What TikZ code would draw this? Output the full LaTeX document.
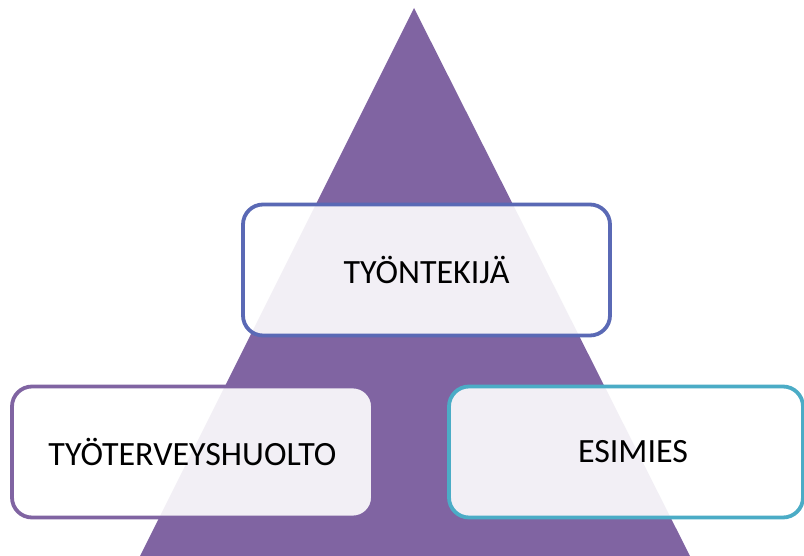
\documentclass[tikz,border=0pt]{standalone}
\usepackage{fontspec}
\setmainfont{Carlito}
\usepackage{tikz}
\usetikzlibrary{positioning}
\definecolor{pyramid}{HTML}{8064A2}
\definecolor{topline}{HTML}{5A69B5}
\definecolor{leftline}{HTML}{8064A2}
\definecolor{rightline}{HTML}{4BACC6}

\begin{document}
\begin{tikzpicture}[x=1pt, y=-1pt,
  box/.style={rectangle, rounded corners=20pt, line width=3.8pt, fill=white, fill opacity=0.9, text opacity=1,
    minimum height=131pt, font=\fontsize{34}{40}\selectfont},
]
  \useasboundingbox (0,0) rectangle (804,556);
  \fill[white] (0,0) rectangle (804,556);

  % pyramid
  \coordinate (apex) at (414,8);
  \coordinate (baseL) at (136,564);
  \coordinate (baseR) at (694,564);
  \fill[pyramid] (apex) -- (baseR) -- (baseL) -- cycle;

  \node[box, draw=topline, minimum width=367pt] (worker) at (426.5,270) {TYÖNTEKIJÄ};
  \node[box, draw=leftline, minimum width=361pt] (health) at (192.5,452) {TYÖTERVEYSHUOLTO};
  \node[box, draw=rightline, minimum width=354pt, align=center, text width=340pt] (boss) at (626,452) {\hspace*{14pt}ESIMIES};
\end{tikzpicture}
\end{document}
